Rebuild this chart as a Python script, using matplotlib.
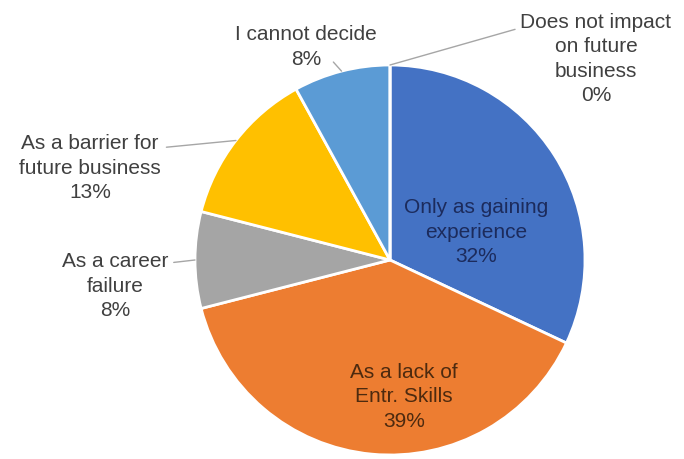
import numpy as np
import matplotlib.pyplot as plt

labels = ["Only as gaining\nexperience\n32%",
          "As a lack of\nEntr. Skills\n39%",
          "As a career\nfailure\n8%",
          "As a barrier for\nfuture business\n13%",
          "I cannot decide\n8%",
          "Does not impact\non future\nbusiness\n0%"]
values = [32, 39, 8, 13, 8, 0]
colors = ["#4472C4", "#ED7D31", "#A5A5A5", "#FFC000", "#5B9BD5", "#70AD47"]

plt.rcParams['font.family'] = ['Liberation Sans', 'DejaVu Sans']

fig = plt.figure(figsize=(6.84, 4.59), dpi=100)
ax = fig.add_axes([0, 0, 1, 1])

cx, cy, r = 390, 199, 195
ax.pie(values, colors=colors, startangle=90, counterclock=False,
       center=(cx, cy), radius=r, frame=True,
       wedgeprops=dict(edgecolor='white', linewidth=2))
ax.set_xlim(0, 684)
ax.set_ylim(0, 459)
ax.set_aspect('equal')
ax.axis('off')

# mid angle of every wedge
vals = np.array(values, dtype=float)
cum = np.cumsum(vals) / vals.sum()
mid = 90 - (cum - vals / vals.sum() / 2) * 360

fs = 15
ls = 1.35
# inside labels
ax.text(476, 459 - 232, labels[0], ha='center', va='center', fontsize=fs,
        color='#1c2b5c', linespacing=ls)
ax.text(404, 459 - 397, labels[1], ha='center', va='center', fontsize=fs,
        color='#4d2a0f', linespacing=ls)

# outside labels with leader lines: (text pos, relpos)
outside = {
    2: ((115, 459 - 286), (1.0, 0.84)),
    3: ((90, 459 - 168), (1.0, 0.8)),
    4: ((306, 459 - 47), (0.68, 0.2)),
    5: ((596, 459 - 59), (0.0, 0.84)),
}
for i, (pos, rel) in outside.items():
    a = np.deg2rad(mid[i])
    pt = (cx + r * np.cos(a), cy + r * np.sin(a))
    ax.annotate(labels[i], xy=pt, xytext=pos, ha='center', va='center',
                fontsize=fs, color='#404040', linespacing=ls,
                arrowprops=dict(arrowstyle='-', color='#a6a6a6', lw=1,
                                relpos=rel, shrinkA=2, shrinkB=0))

fig.savefig('out.png', dpi=100)
